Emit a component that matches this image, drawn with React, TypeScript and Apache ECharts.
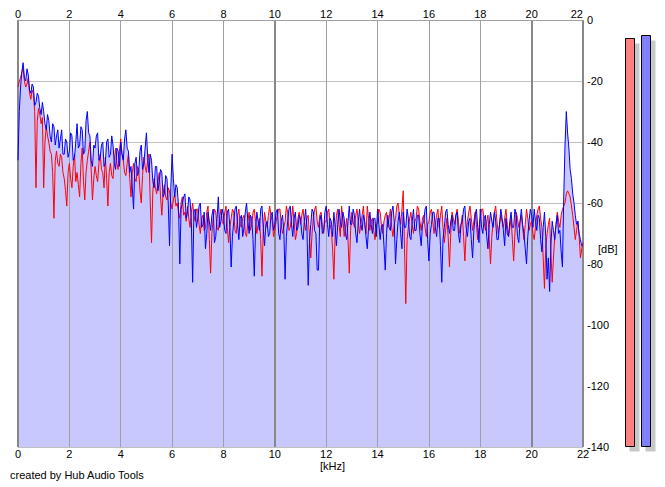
import React, { useEffect, useRef } from "react";
import * as echarts from "echarts";

// Spectrum bins every 0.05 kHz from 0 to 22 kHz (dB), one row per kHz
const FREQ_STEP_KHZ = 0.05;

const leftDb = [
  -22, -20, -19, -17, -16, -20, -22, -21, -19, -24, -26, -23, -24, -30, -55, -33, -29, -31, -34, -32,
  -55, -40, -35, -38, -40, -43, -44, -50, -65, -46, -43, -47, -48, -44, -45, -50, -52, -56, -61, -50,
  -47, -52, -55, -48, -44, -53, -50, -54, -58, -47, -42, -53, -59, -50, -46, -43, -40, -49, -59, -52,
  -48, -51, -53, -47, -44, -49, -50, -55, -45, -52, -61, -50, -47, -51, -52, -46, -42, -47, -49, -43,
  -39, -44, -46, -50, -51, -47, -44, -52, -58, -50, -47, -52, -53, -48, -49, -56, -60, -51, -45, -48,
  -50, -46, -44, -60, -73, -56, -52, -55, -57, -53, -50, -58, -64, -57, -54, -58, -59, -55, -56, -60,
  -62, -59, -57, -61, -60, -63, -65, -60, -58, -64, -63, -66, -61, -65, -68, -63, -60, -64, -66, -62,
  -62, -67, -70, -65, -64, -69, -68, -63, -61, -72, -83, -70, -65, -62, -63, -68, -69, -65, -62, -66,
  -67, -63, -61, -68, -73, -68, -65, -62, -63, -69, -70, -64, -62, -67, -68, -65, -64, -70, -71, -66,
  -63, -69, -67, -63, -62, -66, -70, -67, -65, -72, -84, -69, -63, -66, -68, -64, -61, -64, -66, -71,
  -69, -66, -64, -62, -62, -67, -70, -68, -66, -61, -63, -69, -68, -65, -61, -66, -72, -70, -65, -63,
  -67, -64, -62, -66, -69, -65, -64, -71, -78, -70, -65, -62, -61, -66, -68, -64, -63, -67, -70, -66,
  -66, -63, -62, -67, -69, -75, -85, -70, -64, -62, -67, -71, -61, -65, -71, -68, -65, -72, -83, -69,
  -63, -66, -68, -64, -62, -66, -70, -67, -64, -61, -67, -70, -61, -65, -69, -66, -65, -69, -72, -68,
  -66, -62, -63, -67, -70, -66, -64, -63, -68, -65, -62, -68, -71, -67, -65, -61, -60, -64, -67, -62,
  -56, -75, -93, -72, -68, -65, -63, -67, -70, -66, -65, -61, -62, -66, -69, -65, -64, -68, -71, -67,
  -66, -63, -62, -66, -70, -67, -64, -62, -68, -64, -61, -68, -73, -69, -65, -71, -81, -70, -63, -65,
  -67, -64, -62, -66, -70, -67, -64, -71, -79, -70, -66, -63, -61, -65, -69, -66, -63, -67, -72, -68,
  -65, -62, -62, -66, -69, -66, -64, -72, -80, -71, -66, -63, -61, -66, -70, -67, -64, -66, -68, -65,
  -62, -67, -71, -68, -65, -72, -79, -70, -63, -65, -68, -66, -64, -68, -72, -67, -62, -65, -69, -67,
  -66, -70, -72, -68, -64, -62, -61, -65, -68, -78, -88, -75, -70, -67, -65, -76, -86, -78, -71, -67,
  -63, -66, -68, -64, -62, -61, -60, -57, -56, -57, -58, -61, -64, -68, -72, -69, -66, -71, -78, -75,
  -73,
];

const rightDb = [
  -46, -30, -22, -17, -14, -19, -20, -16, -18, -23, -24, -21, -22, -28, -27, -24, -25, -29, -31, -27,
  -30, -34, -36, -31, -33, -38, -40, -34, -35, -41, -38, -36, -42, -39, -36, -44, -44, -39, -40, -45,
  -43, -37, -38, -46, -45, -40, -34, -42, -41, -35, -36, -44, -43, -33, -30, -37, -38, -46, -48, -41,
  -42, -38, -37, -46, -45, -41, -40, -48, -47, -40, -39, -45, -44, -38, -41, -47, -49, -42, -43, -48,
  -40, -44, -46, -39, -36, -42, -43, -50, -48, -55, -62, -47, -45, -51, -50, -43, -41, -49, -47, -42,
  -37, -45, -50, -44, -46, -53, -55, -48, -48, -56, -53, -49, -50, -58, -57, -51, -52, -60, -74, -55,
  -44, -52, -58, -54, -55, -61, -80, -62, -60, -58, -57, -65, -63, -58, -59, -66, -86, -63, -62, -68,
  -65, -61, -60, -68, -67, -63, -75, -70, -63, -66, -69, -64, -62, -73, -71, -65, -58, -68, -66, -62,
  -64, -69, -70, -63, -62, -68, -81, -71, -66, -62, -61, -67, -72, -65, -64, -71, -68, -63, -60, -66,
  -70, -64, -65, -72, -84, -69, -63, -66, -69, -62, -61, -68, -74, -67, -66, -71, -70, -64, -63, -69,
  -67, -63, -62, -70, -72, -66, -64, -69, -85, -71, -66, -62, -61, -67, -71, -65, -63, -69, -68, -64,
  -65, -70, -72, -66, -62, -68, -87, -73, -67, -62, -63, -69, -70, -82, -82, -66, -64, -70, -69, -63,
  -61, -67, -71, -65, -66, -71, -63, -68, -74, -67, -62, -66, -68, -63, -65, -70, -72, -66, -61, -67,
  -67, -62, -64, -70, -73, -66, -62, -67, -69, -64, -66, -71, -75, -68, -63, -67, -70, -65, -65, -71,
  -62, -67, -72, -68, -67, -74, -82, -70, -64, -68, -69, -63, -61, -66, -80, -72, -66, -63, -70, -75,
  -63, -68, -68, -62, -65, -71, -72, -66, -62, -69, -69, -64, -64, -70, -74, -67, -66, -62, -61, -72,
  -79, -70, -67, -63, -63, -68, -71, -65, -65, -74, -86, -72, -68, -63, -62, -67, -70, -66, -64, -69,
  -69, -64, -63, -70, -73, -67, -66, -62, -61, -68, -71, -66, -65, -72, -78, -69, -64, -62, -68, -73,
  -62, -68, -70, -65, -64, -71, -75, -67, -63, -66, -68, -63, -66, -72, -72, -67, -62, -65, -69, -74,
  -65, -70, -71, -66, -63, -68, -68, -62, -64, -71, -73, -66, -62, -67, -70, -75, -80, -71, -66, -62,
  -64, -68, -62, -66, -69, -64, -65, -72, -76, -68, -63, -71, -85, -78, -89, -74, -66, -69, -72, -67,
  -64, -70, -69, -76, -81, -58, -41, -30, -37, -42, -49, -52, -57, -60, -64, -67, -66, -70, -72, -74,
  -74,
];

const xTicks = [0, 2, 4, 6, 8, 10, 12, 14, 16, 18, 20, 22];
const yTicks = [0, -20, -40, -60, -80, -100, -120, -140];
const meterChannels = ["L", "R"];
const meterLevelsDb = [-6, -5];
const meterColors = ["#ff8080", "#8080ff"];

const FONT = "'Liberation Sans', Arial, sans-serif";

export default function App() {
  const ref = useRef<HTMLDivElement>(null);

  useEffect(() => {
    if (!ref.current) return;
    const chart = echarts.init(ref.current, undefined, { renderer: "svg" });

    const toPairs = (arr: number[]) =>
      arr.map((v, i) => [Number((i * FREQ_STEP_KHZ).toFixed(2)), v]);
    const leftPairs = toPairs(leftDb);
    const rightPairs = toPairs(rightDb);

    const xMin = xTicks[0];
    const xMax = xTicks[xTicks.length - 1];
    const yMin = yTicks[yTicks.length - 1];
    const yMax = yTicks[0];

    const labelStyle = { color: "#000", fontSize: 11, fontFamily: FONT };

    chart.setOption({
      animation: false,
      backgroundColor: "#fff",
      grid: [
        { left: 18, width: 565, top: 20, bottom: 40 },
        { left: 622, width: 32, top: 20, bottom: 40 },
      ],
      xAxis: [
        {
          type: "value",
          gridIndex: 0,
          position: "bottom",
          min: xMin,
          max: xMax,
          interval: 2,
          axisLine: { show: false },
          axisTick: { show: false },
          axisLabel: { ...labelStyle, margin: 1 },
          splitLine: { show: true, lineStyle: { color: "#a0a0a0", width: 1 } },
          z: 3,
        },
        {
          type: "value",
          gridIndex: 0,
          position: "top",
          min: xMin,
          max: xMax,
          interval: 2,
          axisLine: { show: true, lineStyle: { color: "#a0a0a0", width: 1 } },
          axisTick: { show: false },
          axisLabel: { ...labelStyle, margin: 1, alignMaxLabel: "right" },
          splitLine: { show: false },
          z: 3,
        },
        {
          type: "value",
          gridIndex: 0,
          position: "bottom",
          min: xMin,
          max: xMax,
          interval: 10,
          axisLine: { show: false },
          axisTick: { show: false },
          axisLabel: { show: false },
          splitLine: { show: true, lineStyle: { color: "#888888", width: 2 } },
          z: 3,
        },
        {
          type: "category",
          gridIndex: 1,
          data: meterChannels,
          show: false,
        },
      ],
      yAxis: [
        {
          type: "value",
          gridIndex: 0,
          position: "right",
          min: yMin,
          max: yMax,
          interval: 20,
          axisLine: { show: true, lineStyle: { color: "#a0a0a0", width: 1 } },
          axisTick: { show: false },
          axisLabel: { ...labelStyle, margin: 4 },
          splitLine: { show: true, lineStyle: { color: "#c0c0c0", width: 1 } },
          z: -2,
        },
        {
          type: "value",
          gridIndex: 1,
          min: yMin,
          max: yMax,
          show: false,
        },
      ],
      series: [
        {
          type: "line",
          xAxisIndex: 0,
          yAxisIndex: 0,
          data: leftPairs,
          showSymbol: false,
          symbol: "none",
          silent: true,
          lineStyle: { width: 0, opacity: 0 },
          areaStyle: { color: "#c8c8ff", opacity: 1, origin: "start" },
          z: -1,
        },
        {
          type: "line",
          xAxisIndex: 0,
          yAxisIndex: 0,
          data: rightPairs,
          showSymbol: false,
          symbol: "none",
          silent: true,
          lineStyle: { width: 0, opacity: 0 },
          areaStyle: { color: "#c8c8ff", opacity: 1, origin: "start" },
          z: -1,
        },
        {
          type: "line",
          xAxisIndex: 0,
          yAxisIndex: 0,
          data: leftPairs,
          showSymbol: false,
          symbol: "none",
          silent: true,
          lineStyle: { color: "#ff0000", width: 1 },
          z: 5,
        },
        {
          type: "line",
          xAxisIndex: 0,
          yAxisIndex: 0,
          data: rightPairs,
          showSymbol: false,
          symbol: "none",
          silent: true,
          lineStyle: { color: "#0000ff", width: 1 },
          z: 6,
        },
        {
          type: "custom",
          xAxisIndex: 3,
          yAxisIndex: 1,
          silent: true,
          data: meterLevelsDb.map((v, i) => [i, v]),
          renderItem: (params: any, api: any) => {
            const idx = api.value(0);
            const v = api.value(1);
            const top = api.coord([idx, v]);
            const base = api.coord([idx, yMin]);
            const w = 10;
            const x = Math.round(top[0] - w / 2) + 0.5;
            const y = Math.round(top[1]) + 0.5;
            const h = Math.round(base[1] - top[1]) - 1;
            return {
              type: "group",
              children: [
                {
                  type: "rect",
                  shape: { x: x + 4, y: y + 5, width: w, height: h },
                  style: { fill: "#c8c8c8" },
                },
                {
                  type: "rect",
                  shape: { x, y, width: w - 1, height: h },
                  style: { fill: meterColors[idx], stroke: "#000", lineWidth: 1 },
                },
              ],
            };
          },
          z: 4,
        },
      ],
      graphic: [
        {
          type: "text",
          left: 320,
          top: 460,
          style: { text: "[kHz]", fill: "#000", font: `11px ${FONT}` },
        },
        {
          type: "text",
          left: 598,
          top: 243,
          style: { text: "[dB]", fill: "#000", font: `11px ${FONT}` },
        },
        {
          type: "text",
          left: 10,
          top: 469,
          style: { text: "created by Hub Audio Tools", fill: "#000", font: `11px ${FONT}` },
        },
      ],
    });

    return () => chart.dispose();
  }, []);

  return (
    <div
      ref={ref}
      style={{ position: "fixed", left: 0, top: 0, width: 665, height: 487, background: "#fff" }}
    />
  );
}
